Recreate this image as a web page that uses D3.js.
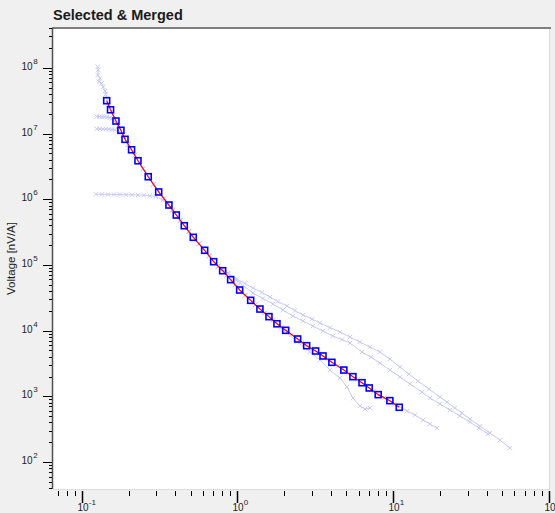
<!DOCTYPE html>
<html>
<head>
<meta charset="utf-8">
<script src="https://cdn.jsdelivr.net/npm/d3@7"></script>
<style>
  html, body { margin: 0; padding: 0; background: #f0f0f0; }
  svg { display: block; font-family: "Liberation Sans", Arial, sans-serif; }
</style>
</head>
<body>
<svg id="chart" width="555" height="513"></svg>
<script>
const WIDTH = 555;
const HEIGHT = 513;
const PLOT = { left: 53, right: 550, top: 28, bottom: 489 };
const X_DOMAIN = [0.0645, 100];
const Y_DOMAIN = [38.8, 4.04e8];

const TITLE = 'Selected & Merged';
const Y_TITLE = 'Voltage [nV/A]';

// merged curve (red line, blue squares)
const mergedFreq = [
  0.1426, 0.151, 0.1636, 0.176, 0.187, 0.206, 0.2265, 0.2636, 0.3076, 0.358,
  0.399, 0.449, 0.513, 0.607, 0.693, 0.792, 0.891, 1.018, 1.198, 1.374,
  1.57, 1.767, 2.01, 2.4, 2.74, 3.13, 3.49, 3.98, 4.75, 5.43,
  6.21, 6.91, 7.89, 9.38, 10.77
];
const mergedVolt = [
  3.16e7, 2.3e7, 1.55e7, 1.12e7, 8.16e6, 5.66e6, 3.85e6, 2.2e6, 1.29e6, 8.16e5,
  5.75e5, 3.95e5, 2.63e5, 1.67e5, 1.12e5, 8.16e4, 5.96e4, 4.15e4, 2.89e4, 2.13e4,
  1.63e4, 1.27e4, 1.01e4, 7.45e3, 5.89e3, 4.89e3, 4.11e3, 3.29e3, 2.51e3, 1.99e3,
  1.61e3, 1.34e3, 1.06e3, 858, 680
];

// the four source runs (faint)
const run1Freq = [
  0.1249, 0.1259, 0.1249, 0.1291, 0.1272, 0.1324, 0.1355, 0.139, 0.1406,
  0.1467, 0.1572, 0.1697, 0.1814, 0.1963, 0.216, 0.2443, 0.2848, 0.3318, 0.378,
  0.4233, 0.48, 0.558, 0.6486, 0.741,
  0.856, 0.974, 1.101, 1.239, 1.415, 1.593, 1.793, 2.048, 2.305, 2.594,
  2.964, 3.335, 3.866, 4.48, 5.2, 6.02, 6.98, 8.09, 9.38, 10.88,
  12.43, 14.2, 16.7, 19.65, 21.8, 24.5, 27.2, 30.6, 35.5, 41.1, 47.7, 55.3
];
const run1Volt = [
  1.04e8, 9.27e7, 7.76e7, 6.92e7, 6.15e7, 5.81e7, 5.15e7, 4.44e7, 3.95e7,
  2.75e7, 1.9e7, 1.33e7, 9.6e6, 6.85e6, 4.7e6, 2.93e6, 1.69e6, 1.04e6, 6.9e5,
  4.8e5, 3.25e5, 2.12e5, 1.39e5, 9.7e4,
  7.53e4, 6.1e4, 5.21e4, 4.45e4, 3.8e4, 3.25e4, 2.77e4, 2.37e4, 2.02e4, 1.73e4,
  1.5e4, 1.31e4, 1.11e4, 9.52e3, 7.99e3, 6.71e3, 5.63e3, 4.72e3, 3.7e3, 2.79e3,
  2.18e3, 1.71e3, 1.29e3, 976, 819, 664, 557, 451, 353, 276, 216, 163
];

const run2Freq = [
  0.123, 0.128, 0.133, 0.138, 0.143, 0.149, 0.154,
  0.1697, 0.1814, 0.1963, 0.216, 0.2443, 0.2848, 0.3318, 0.378, 0.4233,
  0.48, 0.558, 0.6486, 0.741,
  0.856, 1.022, 1.239, 1.437, 1.665, 1.93, 2.238, 2.594, 3.007, 3.486,
  4.04, 4.62, 5.2, 6.21, 7.09, 8.09, 9.38, 10.88, 12.61, 15.06,
  16.95, 19.65, 22.8, 26.4, 30.6, 35.0, 39.9
];
const run2Volt = [
  1.82e7, 1.81e7, 1.8e7, 1.79e7, 1.77e7, 1.74e7, 1.7e7,
  1.31e7, 9.5e6, 6.75e6, 4.65e6, 2.9e6, 1.67e6, 1.03e6, 6.8e5, 4.75e5,
  3.2e5, 2.09e5, 1.36e5, 9.5e4,
  7.27e4, 5.3e4, 3.73e4, 3.08e4, 2.54e4, 2.06e4, 1.67e4, 1.4e4, 1.17e4, 9.86e3,
  8.27e3, 7.32e3, 6.48e3, 4.72e3, 3.96e3, 3.21e3, 2.51e3, 1.97e3, 1.54e3, 1.16e3,
  942, 764, 619, 501, 406, 329, 267
];

const run3Freq = [
  0.123, 0.129, 0.135, 0.141, 0.1475, 0.154, 0.161, 0.1685,
  0.1814, 0.1963, 0.216, 0.2443, 0.2848, 0.3318, 0.378, 0.4233, 0.48, 0.558,
  0.6486, 0.741, 0.84, 0.952, 1.104, 1.283, 1.469, 1.665, 1.885, 2.196,
  2.564, 2.929, 3.305, 3.727, 4.348, 5.079, 5.807, 6.551, 7.384, 8.603, 10.05,
  12.06, 13.58, 15.29, 16.95, 18.8
];
const run3Volt = [
  1.18e7, 1.18e7, 1.17e7, 1.17e7, 1.16e7, 1.15e7, 1.14e7, 1.12e7,
  9.5e6, 6.8e6, 4.66e6, 2.91e6, 1.68e6, 1.03e6, 6.85e5, 4.77e5, 3.22e5, 2.1e5,
  1.37e5, 9.56e4, 6.97e4, 4.97e4, 3.46e4, 2.48e4, 1.86e4, 1.44e4, 1.13e4, 8.67e3,
  6.62e3, 5.37e3, 4.48e3, 3.68e3, 2.87e3, 2.24e3, 1.79e3, 1.47e3, 1.19e3, 951, 764,
  597, 519, 436, 379, 329
];

const run4Freq = [
  0.1217, 0.133, 0.1452, 0.1589, 0.1734, 0.1897, 0.207, 0.2265, 0.247, 0.27,
  0.295, 0.3276,
  0.378, 0.4233, 0.48, 0.558, 0.6486, 0.741, 0.84, 0.952, 1.104, 1.283,
  1.469, 1.665, 1.885,
  1.988, 2.375, 2.875, 3.335, 3.866, 4.48, 4.97, 5.43, 6.02, 6.49, 6.98
];
const run4Volt = [
  1.19e6, 1.19e6, 1.18e6, 1.18e6, 1.18e6, 1.17e6, 1.17e6, 1.16e6, 1.15e6, 1.13e6,
  1.1e6, 9.7e5,
  6.8e5, 4.74e5, 3.2e5, 2.09e5, 1.36e5, 9.5e4, 6.9e4, 4.95e4, 3.45e4, 2.47e4,
  1.85e4, 1.43e4, 1.12e4,
  9.86e3, 6.78e3, 4.77e3, 3.57e3, 2.51e3, 1.9e3, 1.39e3, 942, 712, 641, 664
];

const runs = [
  [run1Freq, run1Volt],
  [run2Freq, run2Volt],
  [run3Freq, run3Volt],
  [run4Freq, run4Volt]
];

const FAINT = '#c9cbf7';
const CROSS = 'M-2.2,-2.2L2.2,2.2M-2.2,2.2L2.2,-2.2';

const svg = d3.select('#chart');

const x = d3.scaleLog().domain(X_DOMAIN).range([PLOT.left, PLOT.right]);
const y = d3.scaleLog().domain(Y_DOMAIN).range([PLOT.bottom, PLOT.top]);

function isDecade(t) {
  const l = Math.log10(t);
  return Math.abs(l - Math.round(l)) < 1e-6;
}

svg.append('rect')
  .attr('width', WIDTH).attr('height', HEIGHT)
  .attr('fill', '#f0f0f0');

// plot panel with its bevel
svg.append('rect')
  .attr('x', PLOT.left).attr('y', PLOT.top)
  .attr('width', PLOT.right - PLOT.left - 1)
  .attr('height', PLOT.bottom - PLOT.top)
  .attr('fill', '#ffffff');
svg.append('line')
  .attr('x1', PLOT.right - 0.5).attr('x2', PLOT.right - 0.5)
  .attr('y1', PLOT.top).attr('y2', PLOT.bottom)
  .attr('stroke', '#dcdcdc');
svg.append('line')
  .attr('x1', PLOT.left).attr('x2', PLOT.right)
  .attr('y1', PLOT.bottom + 0.5).attr('y2', PLOT.bottom + 0.5)
  .attr('stroke', '#dcdcdc');
svg.append('line')
  .attr('x1', PLOT.left - 1).attr('x2', PLOT.right + 1)
  .attr('y1', PLOT.top).attr('y2', PLOT.top)
  .attr('stroke', '#7f7f7f').attr('stroke-width', 2);

svg.append('text')
  .attr('x', PLOT.left).attr('y', 19.5)
  .attr('font-size', 14.5).attr('font-weight', 'bold')
  .attr('fill', '#1a1a1a')
  .text(TITLE);

// y axis
svg.append('line')
  .attr('x1', PLOT.left - 0.5).attr('x2', PLOT.left - 0.5)
  .attr('y1', PLOT.top).attr('y2', PLOT.bottom)
  .attr('stroke', '#505050').attr('stroke-width', 1.5);

const yTicks = y.ticks().filter((t) => t >= Y_DOMAIN[0] && t <= Y_DOMAIN[1]);
svg.append('g').selectAll('line')
  .data(yTicks)
  .join('line')
  .attr('x1', (d) => (isDecade(d) ? PLOT.left - 10 : PLOT.left - 4))
  .attr('x2', PLOT.left - 1)
  .attr('y1', (d) => Math.round(y(d)) + 0.5)
  .attr('y2', (d) => Math.round(y(d)) + 0.5)
  .attr('stroke', '#000');

const yLabels = svg.append('g').selectAll('g')
  .data(yTicks.filter(isDecade))
  .join('g')
  .attr('transform', (d) => `translate(0,${Math.round(y(d))})`);
yLabels.append('text')
  .attr('x', 32.5).attr('y', 1.5)
  .attr('text-anchor', 'end').attr('font-size', 10).attr('fill', '#222')
  .text('10');
yLabels.append('text')
  .attr('x', 33.2).attr('y', -4)
  .attr('font-size', 8).attr('fill', '#222')
  .text((d) => Math.round(Math.log10(d)));

svg.append('text')
  .attr('transform', `translate(15,${(PLOT.top + PLOT.bottom) / 2}) rotate(-90)`)
  .attr('text-anchor', 'middle').attr('font-size', 11.5).attr('fill', '#222')
  .text(Y_TITLE);

// x axis (ticks only)
const xTicks = x.ticks().filter((t) => t >= X_DOMAIN[0] && t <= X_DOMAIN[1]);
svg.append('g').selectAll('line')
  .data(xTicks)
  .join('line')
  .attr('x1', (d) => Math.round(x(d)) - 0.5)
  .attr('x2', (d) => Math.round(x(d)) - 0.5)
  .attr('y1', PLOT.bottom + 2)
  .attr('y2', (d) => (isDecade(d) ? PLOT.bottom + 14 : PLOT.bottom + 7))
  .attr('stroke', '#000')
  .attr('stroke-width', (d) => (isDecade(d) ? 1.5 : 1));

const xLabels = svg.append('g').selectAll('g')
  .data(xTicks.filter(isDecade))
  .join('g')
  .attr('transform', (d) => `translate(${Math.round(x(d))},0)`);
xLabels.append('text')
  .attr('x', 0).attr('y', 511)
  .attr('text-anchor', 'middle').attr('font-size', 10).attr('fill', '#222')
  .text('10');
xLabels.append('text')
  .attr('x', 5.8).attr('y', 505)
  .attr('font-size', 8).attr('fill', '#222')
  .text((d) => Math.round(Math.log10(d)));

// faint source runs
const line = d3.line()
  .x((d) => x(d[0]))
  .y((d) => y(d[1]));

const runG = svg.append('g');
runs.forEach(([freq, volt]) => {
  const pts = freq.map((f, i) => [f, volt[i]]);
  runG.append('path')
    .attr('d', line(pts))
    .attr('fill', 'none')
    .attr('stroke', FAINT)
    .attr('stroke-width', 1);
  runG.append('g').selectAll('path')
    .data(pts)
    .join('path')
    .attr('transform', (d) => `translate(${x(d[0])},${y(d[1])})`)
    .attr('d', CROSS)
    .attr('stroke', FAINT)
    .attr('stroke-width', 1);
});

// merged curve
const merged = mergedFreq.map((f, i) => [f, mergedVolt[i]]);
svg.append('path')
  .attr('d', line(merged))
  .attr('fill', 'none')
  .attr('stroke', '#ff0000')
  .attr('stroke-width', 1.2);
svg.append('g').selectAll('rect')
  .data(merged)
  .join('rect')
  .attr('x', (d) => x(d[0]) - 3)
  .attr('y', (d) => y(d[1]) - 3)
  .attr('width', 6)
  .attr('height', 6)
  .attr('fill', 'none')
  .attr('stroke', '#0000ff')
  .attr('stroke-width', 1.6);
</script>
</body>
</html>
